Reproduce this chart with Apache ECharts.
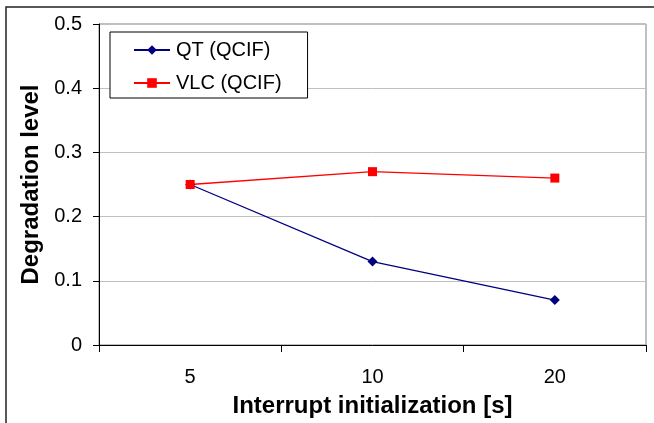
<!DOCTYPE html>
<html>
<head>
<meta charset="utf-8">
<script src="https://cdn.jsdelivr.net/npm/echarts@6/dist/echarts.min.js"></script>
<style>
  html, body { margin: 0; padding: 0; background: #fff; }
  #main { width: 654px; height: 423px; }
</style>
</head>
<body>
<div id="main"></div>
<script>
var categories = ['5', '10', '20'];
var qtValues = [0.25, 0.13, 0.07];
var vlcValues = [0.25, 0.27, 0.26];

var font = "'Liberation Sans', Arial, sans-serif";
var chart = echarts.init(document.getElementById('main'));

var option = {
	animation: false,
	backgroundColor: '#fff',
	textStyle: { fontFamily: font },
	graphic: [{
		type: 'rect',
		shape: { x: 6, y: 7, width: 700, height: 500 },
		style: { fill: 'none', stroke: '#222', lineWidth: 1.5 },
		silent: true
	}],
	grid: {
		left: 99,
		top: 24,
		right: 8,
		bottom: 78,
		show: true,
		borderColor: '#808080',
		borderWidth: 1,
		containLabel: false
	},
	legend: {
		orient: 'vertical',
		left: 110,
		top: 32,
		padding: [8, 26, 5, 23],
		itemGap: 13,
		itemWidth: 36,
		itemHeight: 12,
		borderColor: '#000',
		borderWidth: 1,
		backgroundColor: '#fff',
		textStyle: { fontFamily: font, fontSize: 20, lineHeight: 20, color: '#000', padding: [0, 0, 0, 1] },
		data: ['QT (QCIF)', 'VLC (QCIF)']
	},
	xAxis: {
		type: 'category',
		data: categories,
		boundaryGap: true,
		axisLine: { lineStyle: { color: '#000', width: 1 } },
		axisTick: { show: true, length: 7, lineStyle: { color: '#000' } },
		axisLabel: { fontFamily: font, fontSize: 20, color: '#000', margin: 22 },
		name: 'Interrupt initialization [s]',
		nameLocation: 'middle',
		nameGap: 49,
		nameTextStyle: { fontFamily: font, fontSize: 24, fontWeight: 'bold', color: '#000' },
		splitLine: { show: false }
	},
	yAxis: {
		type: 'value',
		min: 0,
		max: 0.5,
		interval: 0.1,
		axisLine: { show: true, lineStyle: { color: '#000', width: 1 } },
		axisTick: { show: true, length: 6, lineStyle: { color: '#000' } },
		axisLabel: { fontFamily: font, fontSize: 20, color: '#000', margin: 17 },
		splitLine: { lineStyle: { color: '#c0c0c0', width: 1 } },
		name: 'Degradation level',
		nameLocation: 'middle',
		nameGap: 55,
		nameTextStyle: { fontFamily: font, fontSize: 24, fontWeight: 'bold', color: '#000' }
	},
	series: [{
		name: 'QT (QCIF)',
		type: 'line',
		data: qtValues,
		symbol: 'diamond',
		symbolSize: 10,
		color: '#000080',
		lineStyle: { color: '#000080', width: 1.3 },
		itemStyle: { color: '#000080' }
	}, {
		name: 'VLC (QCIF)',
		type: 'line',
		data: vlcValues,
		symbol: 'rect',
		symbolSize: 9,
		color: '#ff0000',
		lineStyle: { color: '#ff0000', width: 1.3 },
		itemStyle: { color: '#ff0000' }
	}]
};

chart.setOption(option);
</script>
</body>
</html>
